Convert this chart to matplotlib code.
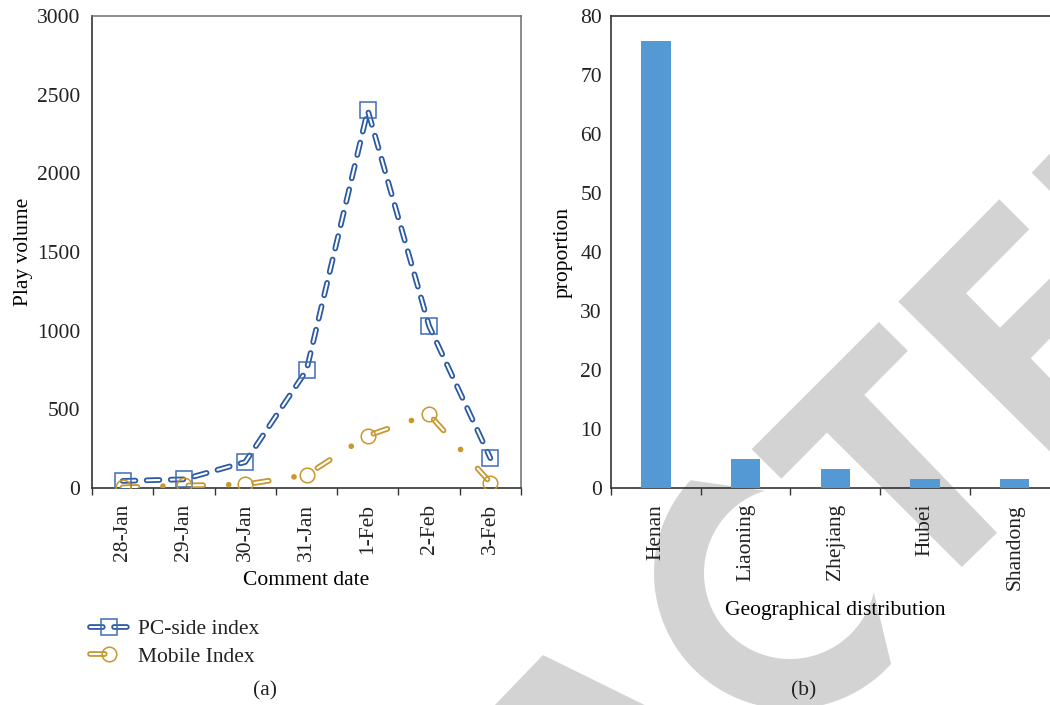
import matplotlib
matplotlib.use("Agg")
import matplotlib.pyplot as plt
from matplotlib.lines import Line2D
from matplotlib.patches import Polygon
import numpy as np

plt.rcParams['font.family'] = ['Liberation Serif', 'DejaVu Serif']
plt.rcParams['font.size'] = 15.5
plt.rcParams['lines.scale_dashes'] = False
plt.rcParams['text.color'] = '#222222'
plt.rcParams['xtick.color'] = '#222222'
plt.rcParams['ytick.color'] = '#222222'

# ---- data -------------------------------------------------------------
dates = ["28-Jan", "29-Jan", "30-Jan", "31-Jan", "1-Feb", "2-Feb", "3-Feb"]
pc_index = [45, 55, 165, 748, 2400, 1030, 190]
mobile_index = [4, 16, 23, 83, 333, 468, 34]
play_ticks = [0, 500, 1000, 1500, 2000, 2500, 3000]

provinces = ["Henan", "Liaoning", "Zhejiang", "Hubei", "Shandong"]
proportion = [75.8, 4.9, 3.2, 1.5, 1.5]
prop_ticks = [0, 10, 20, 30, 40, 50, 60, 70, 80]

# ---- styling ----------------------------------------------------------
PC_BLUE = '#2b5aa2'
PC_MARK = '#3d6cb6'
MOB_GOLD = '#c8972d'
BAR_BLUE = '#5599d4'
WM_GRAY = '#d3d3d3'
DARK = '#333333'

W, H = 1050, 705
fig = plt.figure(figsize=(W / 100, H / 100), dpi=100)


def px(x, y):
    """Pixel position (origin top-left) -> figure fraction."""
    return (x / W, 1 - y / H)


def backdrop(points):
    fig.add_artist(Polygon([px(x, y) for x, y in points], closed=True,
                           transform=fig.transFigure, facecolor=WM_GRAY,
                           edgecolor='none', zorder=-5))


# light grey lettering behind both panels
cx, cy, r_in, r_out = 790, 573, 86, 136
outer = [(cx + r_out * np.cos(np.radians(a)), cy - r_out * np.sin(np.radians(a)))
         for a in np.linspace(137, 318, 80)]
inner = [(cx + r_in * np.cos(np.radians(a)), cy - r_in * np.sin(np.radians(a)))
         for a in np.linspace(347, 107, 80)]
backdrop(outer + inner)
backdrop([(751.6, 449.2), (878.9, 322.0), (907.9, 350.8), (864.3, 394.9),
          (997.0, 532.8), (961.8, 567.0), (827.0, 432.6), (781.4, 478.7)])
backdrop([(898.3, 301.7), (999.3, 199.3), (1029.3, 229.3), (966.0, 293.3),
          (1000.0, 327.7), (1060, 268.4), (1060, 328.0), (1030.7, 358.3),
          (1060, 388.6), (1060, 461.6)])
backdrop([(1031.7, 172.7), (1060, 143), (1060, 201)])
backdrop([(543, 655), (644.6, 705), (700, 733), (442, 760)])

# ---- (a) play volume by comment date ---------------------------------
ax1 = fig.add_axes([92 / W, 1 - 488 / H, (521 - 92) / W, 472 / H])
ax1.patch.set_facecolor('none')
x = np.arange(len(dates))

LW_OUT, LW_IN = 4.1, 1.5
pc_dash = (9.2, 8.1)
mob_dash = (10.6, 18.4, 0.001, 18.4)
mob_dash_in = (10.6, 36.801)

ax1.plot(x, pc_index, color=PC_BLUE, lw=LW_OUT, dashes=pc_dash,
         dash_capstyle='round', zorder=3)
ax1.plot(x, pc_index, color='white', lw=LW_IN, dashes=pc_dash,
         dash_capstyle='round', zorder=3)
ax1.plot(x, pc_index, ls='none', marker='s', ms=11.5, mfc='none',
         mec=PC_MARK, mew=1.1, zorder=4)

ax1.plot(x, mobile_index, color=MOB_GOLD, lw=LW_OUT, dashes=mob_dash,
         dash_capstyle='round', zorder=3)
ax1.plot(x, mobile_index, color='white', lw=LW_IN, dashes=mob_dash_in,
         dash_capstyle='round', zorder=3)
ax1.plot(x, mobile_index, ls='none', marker='o', ms=10.5, mfc='none',
         mec=MOB_GOLD, mew=1.1, zorder=4)

ax1.set_xlim(-0.5, len(dates) - 0.5)
ax1.set_ylim(0, 3000)
ax1.set_yticks(play_ticks)
ax1.set_xticks(x)
ax1.set_xticklabels(dates, rotation=90)
ax1.set_xticks(np.arange(len(dates) + 1) - 0.5, minor=True)
ax1.tick_params(axis='x', which='major', length=0, pad=11.5)
ax1.tick_params(axis='x', which='minor', length=5, width=1.0,
                direction='out', color=DARK)
ax1.tick_params(axis='y', length=0, pad=8.6)
for side in ('left', 'bottom'):
    ax1.spines[side].set_color(DARK)
    ax1.spines[side].set_linewidth(1.2)
for side in ('top', 'right'):
    ax1.spines[side].set_color('#6e6e6e')
    ax1.spines[side].set_linewidth(1.1)
ax1.set_xlabel('Comment date')
ax1.xaxis.set_label_coords(0.5, -0.175)
ax1.set_ylabel('Play volume')
ax1.yaxis.set_label_coords(-0.138, 0.5)

# legend below panel (a)
pc_handle = (Line2D([], [], color=PC_BLUE, lw=LW_OUT, dashes=pc_dash, dash_capstyle='round'),
             Line2D([], [], color='white', lw=LW_IN, dashes=pc_dash, dash_capstyle='round'),
             Line2D([], [], ls='none', marker='s', ms=11.5, mfc='none', mec=PC_MARK, mew=1.1))
mob_handle = (Line2D([], [], color=MOB_GOLD, lw=LW_OUT, dashes=mob_dash, dash_capstyle='round'),
              Line2D([], [], color='white', lw=LW_IN, dashes=mob_dash_in, dash_capstyle='round'),
              Line2D([], [], ls='none', marker='o', ms=10.5, mfc='none', mec=MOB_GOLD, mew=1.1))
fig.legend([pc_handle, mob_handle], ['PC-side index', 'Mobile Index'],
           loc='upper left', bbox_to_anchor=px(90, 619), frameon=False,
           borderpad=0, borderaxespad=0, handlelength=1.75,
           handletextpad=0.5, labelspacing=0.36)

# ---- (b) proportion by province --------------------------------------
ax2 = fig.add_axes([611 / W, 1 - 488 / H, 448.5 / W, 472 / H])
ax2.patch.set_facecolor('none')
xp = np.arange(len(provinces))
ax2.bar(xp, proportion, width=0.327, color=BAR_BLUE, zorder=3)
ax2.set_xlim(-0.5, len(provinces) - 0.5)
ax2.set_ylim(0, 80)
ax2.set_yticks(prop_ticks)
ax2.set_xticks(xp)
ax2.set_xticklabels(provinces, rotation=90)
ax2.set_xticks(np.arange(len(provinces) + 1) - 0.5, minor=True)
ax2.tick_params(axis='x', which='major', length=0, pad=11.5)
ax2.tick_params(axis='x', which='minor', length=5, width=1.0,
                direction='out', color=DARK)
ax2.tick_params(axis='y', length=0, pad=6.5)
for side in ('left', 'bottom', 'top', 'right'):
    ax2.spines[side].set_color(DARK)
    ax2.spines[side].set_linewidth(1.2)
ax2.set_xlabel('Geographical distribution')
ax2.xaxis.set_label_coords(0.5, -0.24)
ax2.set_ylabel('proportion')
ax2.yaxis.set_label_coords(-0.085, 0.5)

fig.text(*px(265, 691), '(a)', ha='center', va='center')
fig.text(*px(804, 691), '(b)', ha='center', va='center')

fig.savefig('out.png', dpi=100)
